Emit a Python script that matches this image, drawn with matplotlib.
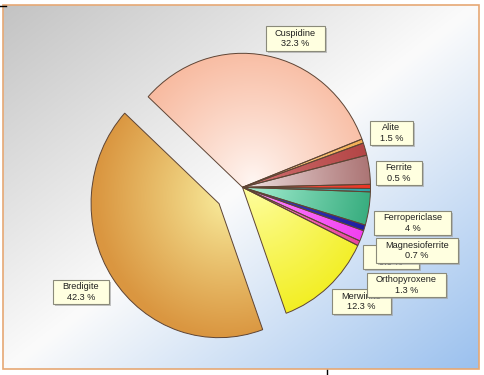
import numpy as np
import matplotlib
matplotlib.use("Agg")
import matplotlib.pyplot as plt
from matplotlib.patches import Rectangle
from matplotlib.colors import to_rgb

plt.rcParams['font.family'] = ['Liberation Sans', 'DejaVu Sans']

# slices, clockwise from the upper-left edge of Cuspidine
phases = ["Cuspidine", "", "Alite", "", "Ferrite", "", "Ferropericlase",
          "Magnesioferrite", "Orthopyroxene", "Lime", "Merwinite", "Bredigite"]
values = [32.3, 0.5, 1.5, 3.5, 0.5, 0.4, 4, 0.7, 1.3, 0.6, 12.3, 42.3]
outer_colors = ["#f8b99e", "#f0a848", "#b04040", "#a46868", "#e83020", "#2a9aa0",
                "#2ca676", "#1c1c9c", "#f038f0", "#e8409c", "#f2ee20", "#da9640"]
inner_colors = ["#fff6f2", "#ffd8a0", "#d07070", "#ecdcdc", "#ff6050", "#60c8c8",
                "#a8f0d4", "#4040c0", "#ff90ff", "#ff80c8", "#ffffa8", "#faf0a0"]
explode = [0, 0, 0, 0, 0, 0, 0, 0, 0, 0, 0, 0.22]

# labels: text, box (x0, y0, x1, y1) in pixels, drawn in this order
label_text = ["Cuspidine\n32.3 %", "Alite\n1.5 %", "Ferrite\n0.5 %", "Ferropericlase\n4 %",
              "Lime\n0.6 %", "Magnesioferrite\n0.7 %", "Merwinite\n12.3 %",
              "Orthopyroxene\n1.3 %", "Bredigite\n42.3 %"]
label_box = [(266, 26, 325, 51), (370, 121, 413, 145), (376, 161, 422, 185),
             (374, 211, 451, 235), (363, 245, 419, 269), (376, 238, 458, 263),
             (332, 289, 391, 314), (367, 273, 446, 297), (53, 280, 109, 304)]

W, H = 484, 375
fig = plt.figure(figsize=(W / 100, H / 100), dpi=100)

# background + frame (pixel coords)
bg = fig.add_axes([0, 0, 1, 1])
bg.set_xlim(0, W)
bg.set_ylim(H, 0)
bg.axis("off")
xx, yy = np.meshgrid(np.linspace(3, 479, 300), np.linspace(5, 369, 240))
t = (xx / W + yy / H) / 2
c0, c1, c2 = np.array(to_rgb("#c2c2c2")), np.array(to_rgb("#fbfbfb")), np.array(to_rgb("#98bfee"))
a = np.clip(t / 0.5, 0, 1)[..., None]
b = np.clip((t - 0.5) / 0.5, 0, 1)[..., None]
img = np.where(t[..., None] < 0.5, c0 + (c1 - c0) * a, c1 + (c2 - c1) * b)
bg.imshow(img, extent=(3, 479, 369, 5), aspect="auto", zorder=0)
bg.add_patch(Rectangle((3, 5), 476, 364, fill=False, edgecolor="#e6a874", lw=1.2, zorder=1))
bg.plot([0, 6], [6, 6], color="black", lw=1)
bg.plot([327, 327], [370, 375], color="black", lw=1)

# pie
cx, cy, rx, ry = 242.5, 187.3, 128, 134
ax = fig.add_axes([0, 0, 1, 1])
ax.patch.set_visible(False)
wedges, _ = ax.pie(values, startangle=137.5, counterclock=False, explode=explode,
                   colors=outer_colors,
                   wedgeprops=dict(edgecolor="#5e4434", linewidth=0.7))
xlim = (-cx / rx, (W - cx) / rx)
ylim = (-(H - cy) / ry, cy / ry)
ax.set_xlim(*xlim)
ax.set_ylim(*ylim)
ax.set_aspect("auto")
ax.axis("off")

gx, gy = np.meshgrid(np.linspace(xlim[0], xlim[1], 500), np.linspace(ylim[1], ylim[0], 400))
for w, co, ci in zip(wedges, outer_colors, inner_colors):
    wx, wy = w.center
    d = np.hypot(gx - (wx + 0.08), gy - (wy + 0.05))
    tt = np.clip(d / 1.05, 0, 1)[..., None] ** 0.9
    shade = np.array(to_rgb(ci)) + (np.array(to_rgb(co)) - np.array(to_rgb(ci))) * tt
    im = ax.imshow(shade, extent=(xlim[0], xlim[1], ylim[0], ylim[1]), aspect="auto",
                   zorder=1, interpolation="bilinear")
    im.set_clip_path(w)
    w.set_facecolor("none")
    w.set_zorder(2)
ax.set_xlim(*xlim)
ax.set_ylim(*ylim)

# labels
top = fig.add_axes([0, 0, 1, 1])
top.patch.set_visible(False)
top.set_xlim(0, W)
top.set_ylim(H, 0)
top.axis("off")
for i, (txt, (x0, y0, x1, y1)) in enumerate(zip(label_text, label_box)):
    z = 10 + 3 * i
    top.add_patch(Rectangle((x0 + 1.5, y0 + 1.5), x1 - x0, y1 - y0, facecolor="#a0a0a0",
                            edgecolor="none", alpha=0.6, zorder=z))
    top.add_patch(Rectangle((x0, y0), x1 - x0, y1 - y0, facecolor="#ffffe0",
                            edgecolor="#8a8a7a", lw=0.8, zorder=z + 1))
    top.text((x0 + x1) / 2, (y0 + y1) / 2, txt, ha="center", va="center", fontsize=6.6,
             color="#202020", linespacing=1.25, zorder=z + 2)

fig.savefig("out.png", dpi=100)
